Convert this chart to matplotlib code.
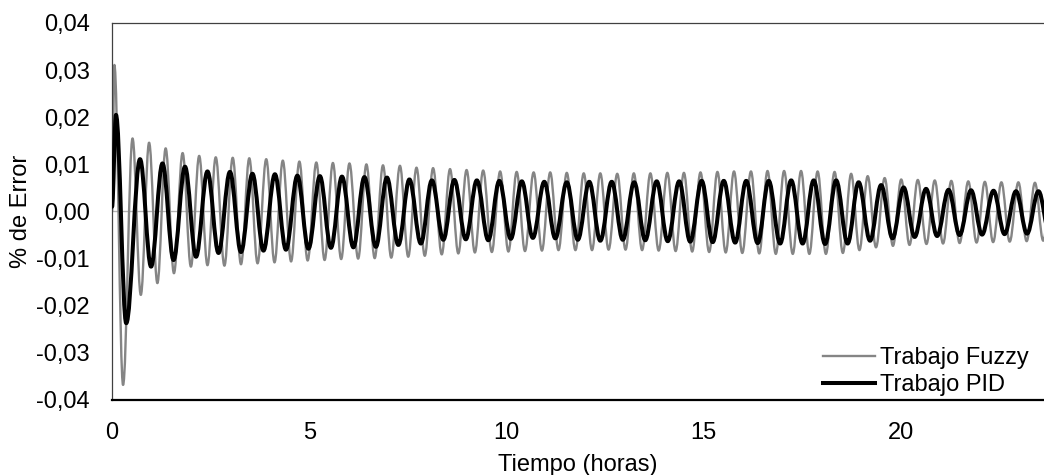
import matplotlib
matplotlib.use("Agg")
import matplotlib.pyplot as plt
from matplotlib.path import Path
from matplotlib.patches import PathPatch
from matplotlib.lines import Line2D
from matplotlib.ticker import FuncFormatter

plt.rcParams['font.family'] = ['Liberation Sans', 'DejaVu Sans']

# Extrema (peaks / troughs), time in hours
fuzzy_t = [0.00, 0.06, 0.28,
           0.52, 0.73, 0.94, 1.15, 1.36, 1.57, 1.79, 2.00, 2.21, 2.42,
           2.63, 2.85, 3.06, 3.27, 3.48, 3.69, 3.91, 4.12, 4.33, 4.54,
           4.75, 4.96, 5.18, 5.39, 5.60, 5.81, 6.02, 6.24, 6.45, 6.66,
           6.87, 7.08, 7.30, 7.51, 7.72, 7.93, 8.14, 8.36, 8.57, 8.78,
           8.99, 9.20, 9.41, 9.63, 9.84, 10.05, 10.26, 10.47, 10.69, 10.90,
           11.11, 11.32, 11.53, 11.75, 11.96, 12.17, 12.38, 12.59, 12.81, 13.02,
           13.23, 13.44, 13.65, 13.86, 14.08, 14.29, 14.50, 14.71, 14.92, 15.14,
           15.35, 15.56, 15.77, 15.98, 16.20, 16.41, 16.62, 16.83, 17.04, 17.26,
           17.47, 17.68, 17.89, 18.10, 18.32, 18.53, 18.74, 18.95, 19.16, 19.37,
           19.59, 19.80, 20.01, 20.22, 20.43, 20.65, 20.86, 21.07, 21.28, 21.49,
           21.71, 21.92, 22.13, 22.34, 22.55, 22.76, 22.98, 23.19, 23.40, 23.61,
           23.82]
fuzzy_v = [0.0000, 0.0311, -0.0368,
           0.0155, -0.0177, 0.0146, -0.0152, 0.0134, -0.0131, 0.0124, -0.0117, 0.0118, -0.0114,
           0.0115, -0.0115, 0.0114, -0.0112, 0.0113, -0.0110, 0.0111, -0.0108, 0.0108, -0.0106,
           0.0106, -0.0104, 0.0104, -0.0103, 0.0103, -0.0101, 0.0102, -0.0100, 0.0100, -0.0099,
           0.0098, -0.0098, 0.0097, -0.0096, 0.0093, -0.0094, 0.0092, -0.0091, 0.0090, -0.0089,
           0.0088, -0.0087, 0.0087, -0.0086, 0.0085, -0.0085, 0.0084, -0.0084, 0.0083, -0.0083,
           0.0083, -0.0082, 0.0082, -0.0082, 0.0081, -0.0082, 0.0081, -0.0081, 0.0080, -0.0081,
           0.0081, -0.0082, 0.0081, -0.0083, 0.0082, -0.0084, 0.0082, -0.0085, 0.0083, -0.0086,
           0.0084, -0.0087, 0.0085, -0.0088, 0.0085, -0.0089, 0.0086, -0.0090, 0.0086, -0.0090,
           0.0086, -0.0090, 0.0085, -0.0090, 0.0084, -0.0088, 0.0080, -0.0082, 0.0075, -0.0076,
           0.0071, -0.0073, 0.0068, -0.0071, 0.0067, -0.0069, 0.0066, -0.0068, 0.0065, -0.0067,
           0.0064, -0.0066, 0.0063, -0.0065, 0.0062, -0.0064, 0.0062, -0.0063, 0.0061, -0.0062,
           0.0060]

pid_t = [0.00, 0.10, 0.36,
         0.71, 0.99, 1.28, 1.56, 1.85, 2.13, 2.42, 2.70, 2.99, 3.27,
         3.56, 3.84, 4.13, 4.41, 4.70, 4.98, 5.27, 5.55, 5.83, 6.12,
         6.40, 6.69, 6.97, 7.26, 7.54, 7.83, 8.11, 8.40, 8.68, 8.97,
         9.25, 9.54, 9.82, 10.11, 10.39, 10.67, 10.96, 11.24, 11.53, 11.81,
         12.10, 12.38, 12.67, 12.95, 13.24, 13.52, 13.81, 14.09, 14.38, 14.66,
         14.95, 15.23, 15.51, 15.80, 16.08, 16.37, 16.65, 16.94, 17.22, 17.51,
         17.79, 18.08, 18.36, 18.65, 18.93, 19.22, 19.50, 19.79, 20.07, 20.35,
         20.64, 20.92, 21.21, 21.49, 21.78, 22.06, 22.35, 22.63, 22.92, 23.20,
         23.49, 23.77]
pid_v = [0.0010, 0.0205, -0.0237,
         0.0111, -0.0117, 0.0102, -0.0103, 0.0095, -0.0096, 0.0085, -0.0088, 0.0084, -0.0086,
         0.0080, -0.0083, 0.0079, -0.0081, 0.0076, -0.0079, 0.0075, -0.0077, 0.0074, -0.0076,
         0.0073, -0.0075, 0.0072, -0.0071, 0.0068, -0.0068, 0.0066, -0.0060, 0.0067, -0.0059,
         0.0066, -0.0061, 0.0065, -0.0058, 0.0064, -0.0056, 0.0063, -0.0057, 0.0062, -0.0060,
         0.0063, -0.0062, 0.0063, -0.0060, 0.0062, -0.0061, 0.0064, -0.0063, 0.0064, -0.0064,
         0.0065, -0.0065, 0.0065, -0.0066, 0.0065, -0.0067, 0.0065, -0.0068, 0.0066, -0.0068,
         0.0066, -0.0069, 0.0066, -0.0068, 0.0062, -0.0062, 0.0056, -0.0057, 0.0051, -0.0054,
         0.0048, -0.0052, 0.0046, -0.0050, 0.0045, -0.0049, 0.0044, -0.0048, 0.0043, -0.0047,
         0.0043, -0.0046]

y_ticks = [-0.04, -0.03, -0.02, -0.01, 0.00, 0.01, 0.02, 0.03, 0.04]
x_ticks = [0, 5, 10, 15, 20]


def smooth_path(ts, vs):
    # cubic bezier between extrema, flat tangent at each extremum
    verts = [(ts[0], vs[0])]
    codes = [Path.MOVETO]
    for i in range(len(ts) - 1):
        h = ts[i + 1] - ts[i]
        a = 0.3634 * h
        verts += [(ts[i] + a, vs[i]), (ts[i + 1] - a, vs[i + 1]), (ts[i + 1], vs[i + 1])]
        codes += [Path.CURVE4] * 3
    return Path(verts, codes)


fig = plt.figure(figsize=(10.44, 4.75), dpi=100)
ax = fig.add_axes([0.1073, 0.1579, 0.8927, 0.7937])

ax.axhline(0, color='#b4b4b4', lw=1.0, zorder=1)

fuzzy_color = '#858585'
pid_color = '#000000'
ax.add_patch(PathPatch(smooth_path(fuzzy_t, fuzzy_v), fill=False, ec=fuzzy_color,
                       lw=1.7, zorder=2, joinstyle='round', capstyle='round'))
ax.add_patch(PathPatch(smooth_path(pid_t, pid_v), fill=False, ec=pid_color,
                       lw=2.9, zorder=3, joinstyle='round', capstyle='round'))

ax.set_xlim(0, 23.63)
ax.set_ylim(-0.04, 0.04)
ax.set_xticks(x_ticks)
ax.set_yticks(y_ticks)
ax.yaxis.set_major_formatter(FuncFormatter(lambda v, p: f"{v:.2f}".replace('.', ',').replace('-0,00', '0,00')))
ax.tick_params(axis='both', length=0, labelsize=17, colors='#000000')
ax.tick_params(axis='y', pad=16)
ax.tick_params(axis='x', pad=16)

ax.set_xlabel('Tiempo (horas)', fontsize=17, labelpad=7)
ax.set_ylabel('% de Error', fontsize=17, labelpad=3)

ax.spines['right'].set_visible(False)
ax.spines['top'].set_color('#404040')
ax.spines['top'].set_linewidth(0.9)
ax.spines['left'].set_color('#404040')
ax.spines['left'].set_linewidth(0.9)
ax.spines['bottom'].set_color('#000000')
ax.spines['bottom'].set_linewidth(1.6)

handles = [Line2D([], [], color=fuzzy_color, lw=1.7),
           Line2D([], [], color=pid_color, lw=2.9)]
ax.legend(handles, ['Trabajo Fuzzy', 'Trabajo PID'], loc='lower right',
          bbox_to_anchor=(0.987, 0.0), frameon=False, fontsize=17,
          handlelength=2.2, handletextpad=0.2, labelspacing=0.22,
          borderaxespad=0.0, borderpad=0.15)

fig.savefig('out.png', dpi=100)
